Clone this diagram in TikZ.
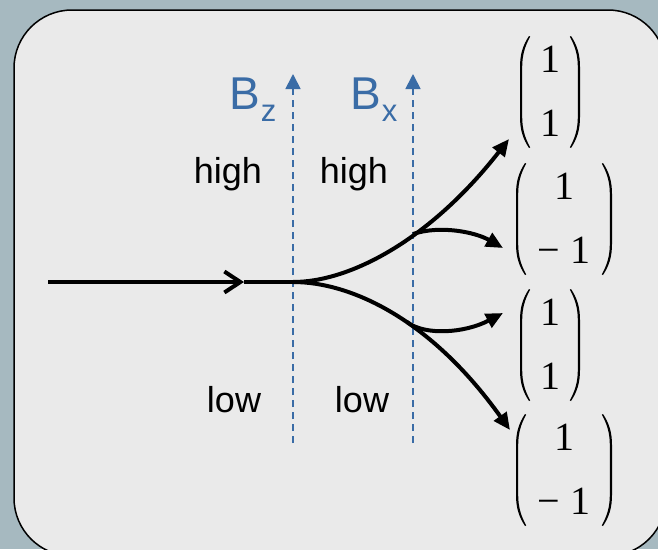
\documentclass[tikz,border=0pt]{standalone}
\usepackage{fontspec}
\setmainfont{Liberation Sans}
\newfontfamily\vecfont{Liberation Serif}
\usetikzlibrary{arrows.meta}

\definecolor{frame}{RGB}{166,185,192}
\definecolor{panel}{RGB}{234,234,234}
\definecolor{field}{RGB}{58,108,166}

% one round bracket, outer edge at x=0, centred on y=0 (y grows downwards)
\newcommand\parenpath{(9,-56) .. controls (3,-47) and (0,-38) .. (0,-25)
  -- (0,25) .. controls (0,38) and (3,47) .. (9,56)
  -- (10.2,55.4) .. controls (5,46) and (2.2,37) .. (2.2,25)
  -- (2.2,-25) .. controls (2.2,-37) and (5,-46) .. (10.2,-55.4) -- cycle}
% pair of brackets round a column vector node; #2 = half the outer width
\newcommand\parenpair[2]{%
  \fill[shift={(#1.center)}, xshift=-#2pt] \parenpath;
  \fill[shift={(#1.center)}, xshift=#2pt, xscale=-1] \parenpath;
}

\tikzset{
  beam/.style={line width=4pt, black},
  beamtip/.style={-{Triangle[length=17pt,width=15pt]}},
  fieldline/.style={field, line width=1.8pt, dash pattern=on 7pt off 5pt,
    -{Triangle[length=15pt,width=15pt]}},
  levellabel/.style={font=\fontsize{36}{40}\selectfont, inner sep=0pt, anchor=base},
  fieldlabel/.style={text=field, font=\fontsize{46}{50}\selectfont, inner sep=0pt,
    anchor=base west},
  spinvec/.style={font=\vecfont\fontsize{40}{64}\selectfont, inner sep=0pt},
}

\newcommand\subsc[1]{{\fontsize{31}{31}\selectfont\raisebox{-12pt}{#1}}}

\begin{document}
\begin{tikzpicture}[x=1pt,y=-1pt]
  \clip (0,0) rectangle (658,549);
  \fill[frame] (0,0) rectangle (658,549);
  \draw[line width=1.5pt, fill=panel, rounded corners=58pt] (14,10) rectangle (666,556);

  % magnetic field regions
  \coordinate (zbot) at (293,443);
  \coordinate (ztop) at (293,74);
  \coordinate (xbot) at (413,443);
  \coordinate (xtop) at (413,74);
  \draw[fieldline] (zbot) -- (ztop);
  \draw[fieldline] (xbot) -- (xtop);
  \node[fieldlabel] (bz) at (229,109) {B\hspace{1pt}\subsc{z}};
  \node[fieldlabel] (bx) at (350,109) {B\hspace{1pt}\subsc{x}};

  \node[levellabel] (hz) at (228,183) {high};
  \node[levellabel] (hx) at (354,183) {high};
  \node[levellabel] (lz) at (234,412) {low};
  \node[levellabel] (lx) at (362,412) {low};

  % output spin states
  \node[spinvec] (v1) at (550,92)  {\begin{tabular}{@{}c@{}}1\\1\end{tabular}};
  \node[spinvec] (v2) at (564,219) {\begin{tabular}{@{}c@{}}1\\− 1\end{tabular}};
  \node[spinvec] (v3) at (550,345) {\begin{tabular}{@{}c@{}}1\\1\end{tabular}};
  \node[spinvec] (v4) at (564,470) {\begin{tabular}{@{}c@{}}1\\− 1\end{tabular}};
  \parenpair{v1}{30}
  \parenpair{v2}{48}
  \parenpair{v3}{30}
  \parenpair{v4}{48}

  % incoming beam and its splitting
  \coordinate (src) at (48,282);
  \coordinate (mid) at (244,282);
  \coordinate (split) at (293,282);
  \coordinate (ux) at (413,234);
  \coordinate (dx) at (407,322);
  \coordinate (t1) at (509,139);
  \coordinate (t2) at (503,248);
  \coordinate (t3) at (503,313);
  \coordinate (t4) at (510,430);

  \draw[beam, -{Straight Barb[length=16pt,width=21pt]}] (src) -- (mid);
  \draw[beam] (mid) -- (split);
  \draw[beam, beamtip] (split) .. controls (350,282) and (430,240) .. (t1);
  \draw[beam, beamtip] (split) .. controls (350,282) and (430,318) .. (t4);
  \draw[beam, beamtip] (ux) .. controls (440,225) and (475,232) .. (t2);
  \draw[beam, beamtip] (dx) .. controls (425,336) and (465,333) .. (t3);
\end{tikzpicture}
\end{document}
